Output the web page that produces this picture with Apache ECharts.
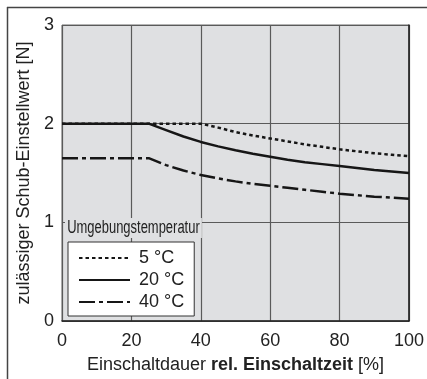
<!DOCTYPE html>
<html>
<head>
<meta charset="utf-8">
<script src="https://cdn.jsdelivr.net/npm/echarts@6/dist/echarts.min.js"></script>
<style>html,body{margin:0;padding:0;background:#fff}#c{width:427px;height:379px}</style>
</head>
<body>
<div id="c"></div>
<script>
var xTicks = [0, 20, 40, 60, 80, 100];
var yTicks = [0, 1, 2, 3];
var seriesNames = ['5 °C', '20 °C', '40 °C'];
var x5 = [0, 40, 45, 50, 55, 60, 65, 70, 75, 80, 85, 90, 95, 100];
var y5 = [2.0, 2.0, 1.96, 1.915, 1.88, 1.85, 1.82, 1.79, 1.765, 1.74, 1.72, 1.70, 1.685, 1.67];
var x20 = [0, 25, 30, 35, 40, 45, 50, 55, 60, 65, 70, 75, 80, 85, 90, 95, 100];
var y20 = [2.0, 2.0, 1.935, 1.87, 1.815, 1.77, 1.73, 1.695, 1.665, 1.635, 1.61, 1.59, 1.57, 1.55, 1.53, 1.515, 1.50];
var x40 = [0, 25, 30, 35, 40, 45, 50, 55, 60, 65, 70, 75, 80, 85, 90, 95, 100];
var y40 = [1.65, 1.65, 1.58, 1.525, 1.48, 1.445, 1.415, 1.39, 1.37, 1.35, 1.33, 1.31, 1.29, 1.275, 1.26, 1.25, 1.24];
var legendTitle = 'Umgebungstemperatur';

function pairs(xs, ys) { return xs.map(function (x, i) { return [x, ys[i]]; }); }

var FONT = 'Liberation Sans, Arial, sans-serif';
var chart = echarts.init(document.getElementById('c'), null, {renderer: 'canvas'});
var lineCol = '#161616';
chart.setOption({
  animation: false,
  textStyle: {fontFamily: FONT},
  grid: {left: 62, right: 14, top: 25, bottom: 55, show: true, backgroundColor: '#dfe0e2', borderColor: '#6a6a6a', borderWidth: 1},
  xAxis: {
    type: 'value', min: 0, max: 100, interval: 20,
    axisLine: {show: true, lineStyle: {color: '#222', width: 1.5}},
    axisTick: {show: false},
    axisLabel: {color: '#222', fontSize: 18, margin: 11, fontFamily: FONT},
    splitLine: {show: true, lineStyle: {color: '#5a5a5a', width: 1.2}},
    name: '{n|Einschaltdauer }{b|rel. Einschaltzeit}{n| [%]}',
    nameLocation: 'middle', nameGap: 35,
    nameTextStyle: {
      rich: {
        n: {fontSize: 18, color: '#222', fontFamily: FONT},
        b: {fontSize: 18, color: '#222', fontWeight: 'bold', fontFamily: FONT}
      }
    }
  },
  yAxis: [{
    type: 'value', min: 0, max: 3, interval: 1,
    axisLine: {show: false},
    axisTick: {show: false},
    axisLabel: {color: '#222', fontSize: 18, margin: 8, fontFamily: FONT, padding: [4, 0, 0, 0]},
    splitLine: {show: true, lineStyle: {color: '#5a5a5a', width: 1.2}},
    name: 'zulässiger Schub-Einstellwert [N]',
    nameLocation: 'middle', nameGap: 27,
    nameTextStyle: {fontSize: 18, color: '#222', fontFamily: FONT}
  }, {
    type: 'value', min: 0, max: 3, interval: 1, position: 'right',
    axisLine: {show: true, lineStyle: {color: '#222', width: 1.5}},
    axisTick: {show: false}, axisLabel: {show: false}, splitLine: {show: false}
  }],
  legend: {
    orient: 'vertical', left: 68, top: 242,
    data: seriesNames,
    itemWidth: 51, itemHeight: 14, itemGap: 4,
    itemStyle: {opacity: 0},
    backgroundColor: '#ffffff', borderColor: '#333', borderWidth: 1,
    padding: [7, 10, 5, 10],
    textStyle: {fontSize: 18, color: '#222', fontFamily: FONT, padding: [0, 0, 0, 4]}
  },
  graphic: [
    {type: 'text', x: 65, y: 228, scaleX: 0.72, z: 100,
     style: {text: legendTitle, font: '18px "Liberation Sans", Arial, sans-serif', fill: '#222', backgroundColor: '#dfe0e2', padding: [1, 3, 1, 3], verticalAlign: 'middle'}},
    {type: 'line', shape: {x1: 7, y1: 7.5, x2: 427, y2: 7.5}, style: {stroke: '#444', lineWidth: 1.5}},
    {type: 'line', shape: {x1: 7.5, y1: 7, x2: 7.5, y2: 379}, style: {stroke: '#444', lineWidth: 1.5}}
  ],
  series: [
    {name: seriesNames[0], type: 'line', data: pairs(x5, y5), symbol: 'none', smooth: false,
     lineStyle: {color: lineCol, width: 2.5, type: [3.5, 3]}, itemStyle: {color: lineCol}},
    {name: seriesNames[1], type: 'line', data: pairs(x20, y20), symbol: 'none', smooth: false,
     lineStyle: {color: lineCol, width: 2.5, type: 'solid'}, itemStyle: {color: lineCol}},
    {name: seriesNames[2], type: 'line', data: pairs(x40, y40), symbol: 'none', smooth: false,
     lineStyle: {color: lineCol, width: 2.5, type: [16, 4, 4, 4]}, itemStyle: {color: lineCol}}
  ]
});
</script>
</body>
</html>
